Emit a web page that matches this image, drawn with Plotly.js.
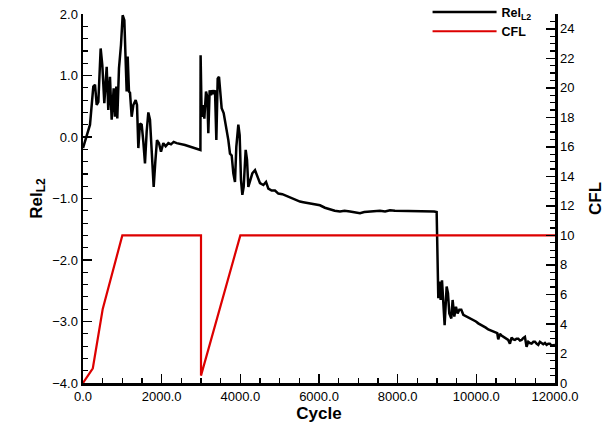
<!DOCTYPE html>
<html>
<head>
<meta charset="utf-8">
<script src="https://cdn.plot.ly/plotly-3.0.1.min.js"></script>
<style>html,body{margin:0;padding:0;background:#fff;}#chart{width:605px;height:430px;}</style>
</head>
<body>
<div id="chart"></div>
<script>
// Residual history (Rel_L2, log10) vs cycle
const relCycle = [0,94,178,262,305,348,390,449,491,542,602,643,686,729,780,813,847,872,915,966,1008,1051,1093,1110,1136,1169,1195,1237,1280,1339,1373,1407,1449,1492,1534,1576,1619,1661,1703,1746,1797,1839,1881,1932,1983,2042,2102,2170,2237,2305,2381,2593,2805,2985,
  2990,3017,3059,3085,3127,3161,3186,3220,3254,3288,3322,3356,3390,3424,3458,3492,3525,3576,3627,3695,3737,3780,3822,3864,3898,3949,3983,4017,4051,4085,4136,4170,4203,4246,4305,4373,4441,4500,4585,4653,4712,4797,4881,4966,5068,5178,5305,5432,5516,5600,5700,5771,5880,6025,6150,6279,6400,6533,6650,6788,6900,7042,7150,7296,7420,7550,7680,7805,7930,8059,8180,8313,8440,8568,8700,8822,8930,8991,
  9007,9033,9058,9093,9127,9160,9194,9245,9279,9313,9364,9397,9440,9482,9524,9567,9618,9669,9730,9796,9860,9923,9990,10049,10110,10176,10240,10303,10370,10430,10490,10532,10557,10600,10640,10684,10730,10769,10810,10854,10896,10940,10981,11020,11066,11110,11150,11190,11235,11277,11320,11360,11405,11450,11490,11530,11574,11616,11660,11701,11745,11786,11830,11870,11910,11955,12000];
const relValue = [-0.18,0.03,0.20,0.82,0.85,0.52,0.57,1.44,1.17,0.55,1.14,0.44,0.98,0.28,0.79,0.33,0.82,0.30,1.12,1.50,1.98,1.90,1.22,0.74,1.31,0.74,0.72,0.33,0.52,0.60,0.52,-0.18,0.22,0.20,-0.08,-0.43,0.09,0.40,0.28,-0.29,-0.81,-0.40,-0.05,-0.10,-0.24,-0.10,-0.15,-0.10,-0.12,-0.08,-0.10,-0.13,-0.17,-0.21,
  1.33,0.33,0.52,0.30,0.74,0.65,0.06,0.76,0.68,0.76,0.70,0.76,-0.05,0.95,0.98,0.76,0.47,0.39,0.22,-0.05,-0.27,-0.30,-0.59,-0.73,-0.16,0.20,0.03,-0.70,-0.94,-0.81,-0.21,-0.37,-0.81,-0.70,-0.59,-0.54,-0.67,-0.75,-0.78,-0.73,-0.84,-0.87,-0.87,-0.92,-0.93,-0.96,-1.00,-1.04,-1.05,-1.06,-1.07,-1.08,-1.10,-1.11,-1.15,-1.18,-1.20,-1.21,-1.20,-1.21,-1.22,-1.24,-1.22,-1.21,-1.20,-1.20,-1.21,-1.19,-1.20,-1.20,-1.21,-1.20,-1.20,-1.21,-1.20,-1.20,-1.21,-1.22,
  -2.11,-2.62,-2.35,-2.65,-2.33,-2.76,-3.06,-2.43,-2.54,-2.87,-2.95,-2.65,-2.92,-2.76,-2.87,-2.81,-2.81,-2.89,-2.91,-2.93,-2.95,-2.98,-3.00,-3.03,-3.05,-3.08,-3.10,-3.13,-3.15,-3.17,-3.18,-3.19,-3.29,-3.20,-3.23,-3.25,-3.26,-3.28,-3.30,-3.36,-3.26,-3.29,-3.30,-3.28,-3.28,-3.31,-3.30,-3.27,-3.25,-3.41,-3.33,-3.35,-3.36,-3.33,-3.33,-3.36,-3.38,-3.33,-3.36,-3.37,-3.35,-3.38,-3.36,-3.36,-3.39,-3.38,-3.38];

// CFL schedule vs cycle
const cflCycle = [0,250,500,1000,3000,3000,4000,12000];
const cflValue = [0,1,5,10,10,0.5,10,10];

const tickFont = {family:'Liberation Sans, Arial, sans-serif', size:13, color:'#000'};
const titleFont = {family:'Liberation Sans, Arial, sans-serif', size:17, color:'#000', weight:'bold'};

const traces = [
  {x: relCycle, y: relValue, type:'scatter', mode:'lines', name:'<b>Rel<sub>L2</sub></b>',
   line:{color:'#000000', width:2.5}, yaxis:'y'},
  {x: cflCycle, y: cflValue, type:'scatter', mode:'lines', name:'<b>CFL</b>',
   line:{color:'#dd0000', width:2.2}, yaxis:'y2'}
];

const layout = {
  width:605, height:430,
  margin:{l:83, r:50, t:14, b:47, autoexpand:false},
  paper_bgcolor:'#fff', plot_bgcolor:'#fff',
  showlegend:true,
  legend:{x:0.73, y:1.045, xanchor:'left', yanchor:'top', bgcolor:'rgba(0,0,0,0)',
          font:{family:'Liberation Sans, Arial, sans-serif', size:12.5, color:'#000'},
          itemwidth:64, tracegroupgap:0},
  xaxis:{range:[0,12000], tickmode:'linear', tick0:0, dtick:2000, tickformat:'.1f',
         ticks:'inside', ticklen:9, tickwidth:1.5, tickcolor:'#000',
         minor:{dtick:500, ticks:'inside', ticklen:5, tickwidth:1.2, tickcolor:'#000'},
         showline:true, linecolor:'#000', linewidth:2.5, showgrid:false, zeroline:false,
         tickfont:tickFont, title:{text:'<b>Cycle</b>', font:titleFont, standoff:4}},
  yaxis:{range:[-4,2], tickmode:'linear', tick0:-4, dtick:1, tickformat:'.1f',
         ticks:'inside', ticklen:9, tickwidth:1.5, tickcolor:'#000',
         minor:{dtick:0.2, ticks:'inside', ticklen:5, tickwidth:1.2, tickcolor:'#000'},
         showline:true, linecolor:'#000', linewidth:2.5, showgrid:false, zeroline:false,
         tickfont:tickFont, title:{text:'<b>Rel<sub>L2</sub></b>', font:titleFont, standoff:6}},
  yaxis2:{range:[0,25], overlaying:'y', side:'right', tickmode:'linear', tick0:0, dtick:2,
         ticks:'inside', ticklen:9, tickwidth:1.5, tickcolor:'#000',
         minor:{dtick:0.5, ticks:'inside', ticklen:5, tickwidth:1.2, tickcolor:'#000'},
         showline:true, linecolor:'#000', linewidth:2.5, showgrid:false, zeroline:false,
         tickfont:tickFont, title:{text:'<b>CFL</b>', font:titleFont, standoff:17}}
};

Plotly.newPlot('chart', traces, layout, {staticPlot:true, displayModeBar:false});
</script>
</body>
</html>
